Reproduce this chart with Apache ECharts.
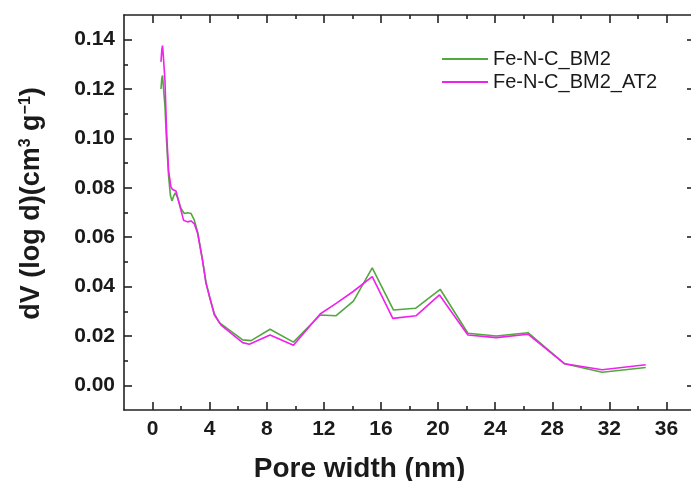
<!DOCTYPE html>
<html lang="en">
<head>
	<meta charset="UTF-8">
	<title>Pore size distribution</title>
	<style>
		html,body{
			margin:0px;
			padding:0px;
			background:#fff;
		}
		#chart{
			width:691px;
			height:481px;
		}
	</style>
</head>
<body>
	<div id="chart"></div>
	<script type="text/javascript" src="https://cdn.jsdelivr.net/npm/echarts@6/dist/echarts.min.js"></script>
	<script type="text/javascript">
		var seriesNames = ['Fe-N-C_BM2', 'Fe-N-C_BM2_AT2'];

		// Fe-N-C_BM2 (green)
		var widthBM2 = [0.59,0.65,0.70,0.76,0.87,0.98,1.12,1.25,1.36,1.47,1.59,1.75,2.0,2.22,2.45,2.69,2.92,3.16,3.5,3.74,4.0,4.33,4.68,6.31,6.9,8.23,9.87,11.74,12.86,14.07,15.39,16.88,18.42,20.15,22.09,24.08,26.3,28.87,31.5,34.55];
		var dvBM2 = [0.120,0.1245,0.1255,0.121,0.113,0.099,0.085,0.077,0.0747,0.0765,0.078,0.076,0.0715,0.0696,0.0699,0.0696,0.067,0.062,0.0507,0.042,0.0355,0.029,0.0254,0.0184,0.0181,0.0227,0.0175,0.0285,0.0282,0.0341,0.0476,0.0305,0.0312,0.0389,0.0211,0.0200,0.0213,0.0087,0.0053,0.0072];

		// Fe-N-C_BM2_AT2 (magenta)
		var widthAT2 = [0.59,0.65,0.70,0.76,0.87,0.98,1.12,1.29,1.40,1.52,1.64,1.87,2.17,2.45,2.69,2.92,3.16,3.5,3.74,4.0,4.33,4.8,6.31,6.78,8.23,9.87,11.74,12.86,14.03,15.39,16.83,18.47,20.1,22.09,24.08,26.3,28.87,31.5,34.55];
		var dvAT2 = [0.131,0.136,0.1376,0.133,0.1234,0.1032,0.0871,0.0803,0.0793,0.0795,0.0787,0.0736,0.0669,0.0662,0.0666,0.0655,0.0615,0.0507,0.0413,0.0359,0.0285,0.0244,0.0173,0.0166,0.0204,0.0162,0.0289,0.0332,0.0379,0.0440,0.0271,0.0282,0.0366,0.0204,0.0193,0.0207,0.0087,0.0063,0.0083];

		var xTicks = [0,4,8,12,16,20,24,28,32,36];
		var xMinorTicks = [2,6,10,14,18,22,26,30,34,38];
		var yTicks = [0,0.02,0.04,0.06,0.08,0.10,0.12,0.14];
		var yMinorTicks = [0.01,0.03,0.05,0.07,0.09,0.11,0.13];

		function pairs(xs, ys){
			var out = [];
			for(var i=0;i<xs.length;i++){
				out.push([xs[i], ys[i]]);
			}
			return out;
		}

		var axisColor = '#222';
		var font = 'Liberation Sans, Arial, sans-serif';

		function xAxisOf(pos, ticks, len, withLine, withLabel){
			return {
				type : 'value',
				position : pos,
				min : -2,
				max : 38,
				splitLine : {show:false},
				axisLine : {show:withLine, onZero:false, lineStyle:{color:axisColor, width:1.6}},
				axisTick : {show:true, inside:true, length:len, customValues:ticks, lineStyle:{color:axisColor, width:1.6}},
				axisLabel : withLabel ? {
					show : true,
					customValues : xTicks,
					margin : 9,
					color : '#1a1a1a',
					fontFamily : font,
					fontWeight : 'bold',
					fontSize : 21
				} : {show:false}
			};
		}
		function yAxisOf(pos, ticks, len, withLine, withLabel){
			return {
				type : 'value',
				position : pos,
				min : -0.01,
				max : 0.15,
				splitLine : {show:false},
				axisLine : {show:withLine, onZero:false, lineStyle:{color:axisColor, width:1.6}},
				axisTick : {show:true, inside:true, length:len, customValues:ticks, lineStyle:{color:axisColor, width:1.6}},
				axisLabel : withLabel ? {
					show : true,
					customValues : yTicks,
					margin : 9,
					color : '#1a1a1a',
					fontFamily : font,
					fontWeight : 'bold',
					fontSize : 21,
					formatter : function(v){ return v.toFixed(2); }
				} : {show:false}
			};
		}

		var xMain = xAxisOf('bottom', xTicks, 8, true, true);
		xMain.name = 'Pore width (nm)';
		xMain.nameLocation = 'middle';
		xMain.nameGap = 45;
		xMain.nameTextStyle = {
			color : '#1a1a1a',
			fontFamily : font,
			fontWeight : 'bold',
			fontSize : 28,
			padding : [0, 100, 0, 0]
		};

		var yMain = yAxisOf('left', yTicks, 8, true, true);
		yMain.name = '{b|dV (log d)(cm}{s|3}{b| g}{s|\u22121}{b|)}';
		yMain.nameLocation = 'middle';
		yMain.nameGap = 78;
		yMain.nameRotate = 90;
		yMain.nameTextStyle = {
			color : '#1a1a1a',
			padding : [0, 0, 0, 18],
			rich : {
				b : {fontFamily:font, fontWeight:'bold', fontSize:27, color:'#1a1a1a'},
				s : {fontFamily:font, fontWeight:'bold', fontSize:16, color:'#1a1a1a', verticalAlign:'top', padding:[0,0,12,0]}
			}
		};

		var option = {
			backgroundColor : '#fff',
			animation : false,
			grid : {
				left : 124,
				right : -4,
				top : 15,
				bottom : 71,
				outerBoundsMode : 'none'
			},
			legend : {
				orient : 'vertical',
				left : 437,
				top : 43,
				icon : 'rect',
				itemWidth : 46,
				itemHeight : 2,
				itemGap : 1,
				textStyle : {
					fontFamily : font,
					fontSize : 20,
					lineHeight : 22,
					color : '#1a1a1a'
				},
				data : seriesNames
			},
			xAxis : [
				xMain,
				xAxisOf('bottom', xMinorTicks, 4, false, false),
				xAxisOf('top', xTicks, 8, true, false),
				xAxisOf('top', xMinorTicks, 4, false, false)
			],
			yAxis : [
				yMain,
				yAxisOf('left', yMinorTicks, 4, false, false),
				yAxisOf('right', yTicks, 8, true, false),
				yAxisOf('right', yMinorTicks, 4, false, false)
			],
			series : [{
				name : seriesNames[0],
				type : 'line',
				data : pairs(widthBM2, dvBM2),
				symbol : 'none',
				smooth : false,
				lineStyle : {color:'#52a83f', width:1.6},
				itemStyle : {color:'#52a83f'}
			},{
				name : seriesNames[1],
				type : 'line',
				data : pairs(widthAT2, dvAT2),
				symbol : 'none',
				smooth : false,
				lineStyle : {color:'#f020ee', width:1.6},
				itemStyle : {color:'#f020ee'}
			}]
		};
		var myChart = echarts.init(document.getElementById('chart'));
		myChart.setOption(option);
	</script>
</body>
</html>
